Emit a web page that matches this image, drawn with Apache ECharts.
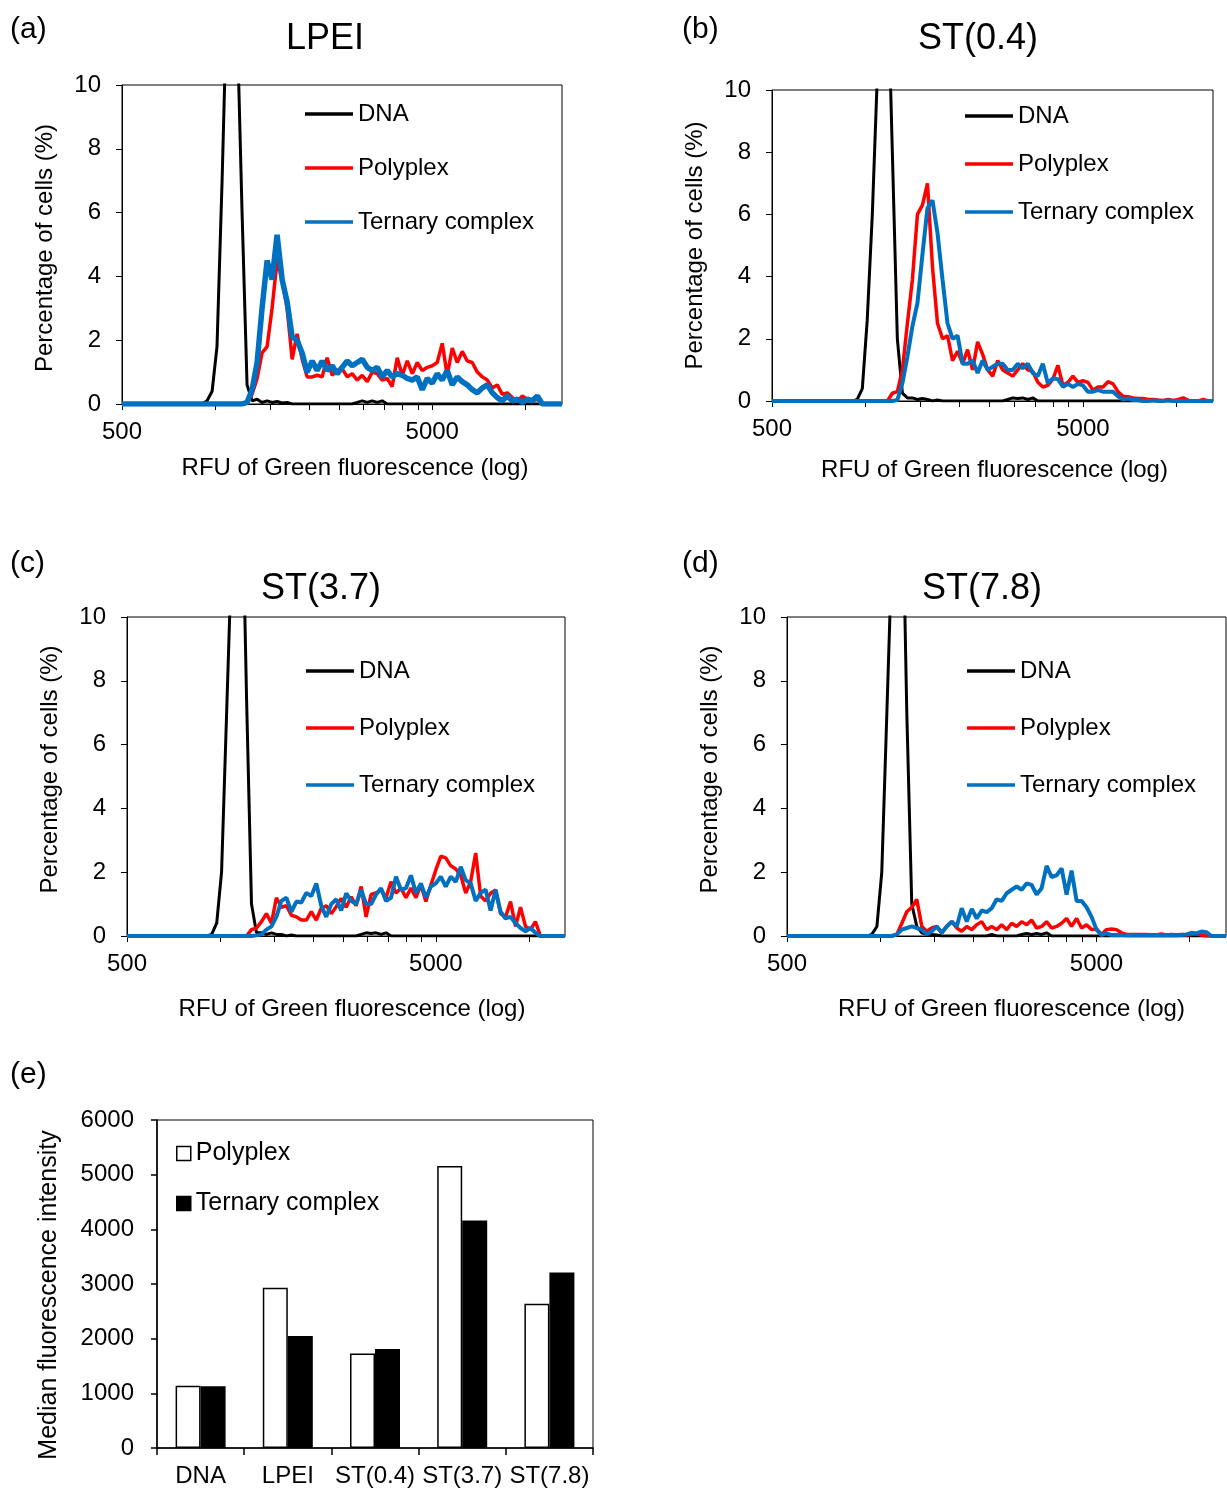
<!DOCTYPE html>
<html>
<head>
<meta charset="utf-8">
<title>Green fluorescence histograms</title>
<script src="https://cdn.jsdelivr.net/npm/echarts@6/dist/echarts.min.js"></script>
<style>
html, body { margin: 0; padding: 0; background: #fff; }
#main { width: 1227px; height: 1492px; }
</style>
</head>
<body>
<div id="main"></div>
<script>
// histogram bin centres (RFU, log spaced)
var rfu = [
  500, 781, 810, 841, 873, 906, 940, 976, 1012, 1051,
  1091, 1132, 1175, 1219, 1265, 1313, 1363, 1414, 1468, 1523,
  1581, 1641, 1703, 1768, 1834, 1904, 1976, 2051, 2128, 2209,
  2292, 2379, 2469, 2563, 2660, 2760, 2865, 2973, 3086, 3202,
  3324, 3449, 3580, 3715, 3856, 4002, 4153, 4311, 4474, 4643,
  4819, 5000, 5189, 5385, 5589, 5801, 6020, 6248, 6484, 6730,
  6985, 7249, 7523, 7808, 8103, 8410, 8728, 9058, 9401, 9757,
  10126, 10509, 10907, 11319, 11748, 12192, 12653, 13100
];

// (a) LPEI
var dnaLpei = [
  0, 0, 0, 0, 0, 0, 0.1, 0.4, 1.8, 7,
  13, 17, 12, 6, 0.6, 0.1, 0.15, 0.05, 0.1, 0.05,
  0.08, 0.03, 0.05, 0, 0, 0, 0, 0, 0, 0,
  0, 0, 0, 0, 0, 0, 0.05, 0.1, 0.05, 0.1,
  0.05, 0.1, 0, 0, 0, 0, 0, 0, 0, 0,
  0, 0, 0, 0, 0, 0, 0, 0, 0, 0,
  0, 0, 0, 0, 0, 0, 0, 0, 0, 0,
  0, 0, 0, 0, 0, 0, 0, 0
];
var polyLpei = [
  0, 0, 0, 0, 0, 0, 0, 0, 0, 0,
  0, 0, 0, 0, 0.05, 0.3, 0.8, 1.6, 1.8, 3.0,
  4.5, 3.9, 3.0, 1.4, 2.2, 1.4, 0.85, 0.85, 0.9, 0.85,
  1.45, 0.9, 1.05, 1.1, 0.85, 0.95, 0.75, 0.9, 0.7, 1.0,
  0.95, 0.75, 0.8, 0.55, 1.45, 0.9, 1.35, 0.95, 1.3, 1.05,
  1.15, 1.2, 1.3, 1.9, 0.9, 1.75, 1.3, 1.65, 1.35, 1.3,
  1.0, 0.85, 0.75, 0.5, 0.6, 0.3, 0.35, 0.2, 0.08, 0.25,
  0.15, 0.1, 0.15, 0, 0, 0, 0, 0
];
var ternLpei = [
  0, 0, 0, 0, 0, 0, 0, 0, 0, 0,
  0, 0, 0, 0, 0.05, 0.45, 1.3, 3.0, 4.5, 3.9,
  5.3, 3.9, 3.2, 2.1, 2.0, 1.6, 1.0, 1.35, 1.05, 1.35,
  1.05, 1.2, 0.95, 1.15, 1.35, 1.2, 1.3, 1.4, 1.15, 1.05,
  1.15, 0.85, 1.05, 0.85, 0.95, 0.9, 0.8, 0.75, 0.85, 0.45,
  0.8, 0.65, 0.95, 0.75, 1.05, 0.6, 0.85, 0.7, 0.6, 0.45,
  0.35, 0.5, 0.6, 0.35, 0.2, 0.1, 0.25, 0.1, 0.15, 0.05,
  0.15, 0.1, 0.25, 0, 0, 0, 0, 0
];

// (b) ST(0.4)
var dnaSt04 = [
  0, 0, 0, 0, 0, 0, 0.05, 0.4, 2.6, 6,
  10.5, 16, 14, 8, 2, 0.25, 0.1, 0.1, 0.05, 0.08,
  0.05, 0, 0.03, 0, 0, 0, 0, 0, 0, 0,
  0, 0, 0, 0, 0, 0, 0.05, 0.1, 0.08, 0.1,
  0.05, 0.1, 0, 0, 0, 0, 0, 0, 0, 0,
  0, 0, 0, 0, 0, 0, 0, 0, 0, 0,
  0, 0, 0, 0, 0, 0, 0, 0, 0, 0,
  0, 0, 0, 0, 0, 0, 0, 0
];
var polySt04 = [
  0, 0, 0, 0, 0, 0, 0, 0, 0, 0,
  0, 0, 0, 0.25, 0.3, 1.0, 2.5, 3.9, 6.0, 6.3,
  7.0, 4.3, 2.5, 2.0, 2.1, 1.3, 1.6, 1.2, 1.65, 1.0,
  1.9, 1.5, 1.0, 0.8, 1.3, 1.0, 0.9, 0.8, 1.0, 1.2,
  1.0, 0.95, 0.6, 0.45, 0.5, 0.7, 1.15, 0.5, 0.6, 0.8,
  0.6, 0.65, 0.6, 0.35, 0.45, 0.45, 0.62, 0.55, 0.3, 0.15,
  0.14, 0.1, 0.08, 0.08, 0.05, 0.05, 0.03, 0.02, 0.05, 0.02,
  0.05, 0.1, 0.02, 0, 0, 0.05, 0, 0
];
var ternSt04 = [
  0, 0, 0, 0, 0, 0, 0, 0, 0, 0,
  0, 0, 0, 0, 0.03, 0.57, 1.43, 2.4, 3.15, 4.7,
  6.2, 6.45, 5.4, 3.9, 2.5, 2.0, 2.1, 1.2, 1.2, 1.3,
  0.9, 1.3, 1.0, 1.1, 1.2, 1.2, 1.0, 1.0, 1.2, 1.05,
  1.2, 0.9, 0.8, 1.2, 0.57, 0.73, 0.7, 0.46, 0.55, 0.45,
  0.55, 0.5, 0.3, 0.3, 0.35, 0.3, 0.3, 0.3, 0.15, 0.05,
  0.08, 0.03, 0.03, 0, 0, 0.02, 0, 0, 0.02, 0,
  0, 0, 0, 0, 0, 0, 0, 0
];

// (c) ST(3.7)
var dnaSt37 = [
  0, 0, 0, 0, 0, 0, 0.05, 0.4, 2.0, 7,
  12, 16, 15, 7.5, 1.0, 0.1, 0.1, 0.05, 0.1, 0.05,
  0.05, 0, 0.03, 0, 0, 0, 0, 0, 0, 0,
  0, 0, 0, 0, 0, 0, 0.05, 0.1, 0.08, 0.1,
  0.05, 0.1, 0, 0, 0, 0, 0, 0, 0, 0,
  0, 0, 0, 0, 0, 0, 0, 0, 0, 0,
  0, 0, 0, 0, 0, 0, 0, 0, 0, 0,
  0, 0, 0, 0, 0, 0, 0, 0
];
var polySt37 = [
  0, 0, 0, 0, 0, 0, 0, 0, 0, 0,
  0, 0, 0, 0, 0.2, 0.25, 0.45, 0.7, 0.4, 1.2,
  0.9, 0.95, 0.65, 0.6, 0.5, 0.5, 0.76, 0.5, 0.87, 0.95,
  0.7, 0.92, 1.18, 0.9, 1.23, 0.95, 1.55, 0.6, 1.3, 1.35,
  1.44, 1.2, 1.7, 1.35, 1.5, 1.2, 1.5, 1.2, 1.6, 1.08,
  1.6, 2.07, 2.5, 2.45, 2.2, 2.1, 1.9, 1.35, 1.7, 2.6,
  1.25, 1.1, 1.34, 1.44, 0.7, 0.6, 1.08, 0.3, 0.9, 0.3,
  0.2, 0.45, 0, 0, 0, 0, 0, 0
];
var ternSt37 = [
  0, 0, 0, 0, 0, 0, 0, 0, 0, 0,
  0, 0, 0, 0, 0, 0.02, 0.05, 0.2, 0.3, 0.6,
  1.1, 1.2, 0.76, 1.08, 1.05, 1.35, 1.25, 1.65, 0.95, 0.6,
  1.0, 1.15, 0.8, 1.34, 1.1, 1.0, 1.45, 1.0, 1.0, 1.3,
  1.5, 1.1, 1.2, 1.86, 1.45, 1.5, 1.9, 1.35, 1.65, 1.2,
  1.55, 1.65, 1.86, 1.55, 1.86, 1.7, 2.17, 1.75, 1.65, 1.1,
  1.35, 1.45, 0.8, 1.45, 0.76, 0.55, 0.6, 0.4, 0.25, 0.15,
  0.25, 0.1, 0, 0, 0, 0, 0, 0
];

// (d) ST(7.8)
var dnaSt78 = [
  0, 0, 0, 0, 0, 0, 0.05, 0.3, 2.0, 7,
  12, 16, 15, 7, 1.0, 0.3, 0.1, 0.05, 0.05, 0.03,
  0, 0, 0, 0, 0, 0, 0, 0, 0, 0,
  0.05, 0, 0, 0, 0, 0, 0.05, 0.08, 0.05, 0.08,
  0.05, 0.1, 0, 0, 0, 0, 0, 0, 0, 0,
  0, 0, 0, 0, 0, 0, 0, 0, 0, 0,
  0, 0, 0, 0, 0, 0, 0, 0, 0, 0,
  0, 0, 0, 0, 0, 0, 0, 0
];
var polySt78 = [
  0, 0, 0, 0, 0, 0, 0, 0, 0, 0,
  0, 0.05, 0.4, 0.76, 0.9, 1.15, 0.3, 0.15, 0.25, 0.3,
  0.1, 0.3, 0.45, 0.25, 0.15, 0.3, 0.2, 0.35, 0.45, 0.2,
  0.3, 0.2, 0.35, 0.2, 0.4, 0.3, 0.45, 0.35, 0.5, 0.25,
  0.3, 0.45, 0.25, 0.3, 0.4, 0.55, 0.3, 0.55, 0.25, 0.35,
  0.2, 0.22, 0.05, 0.2, 0.22, 0.2, 0.1, 0.05, 0.05, 0.05,
  0.05, 0.05, 0.03, 0.03, 0.06, 0.03, 0.05, 0.03, 0.05, 0.03,
  0.05, 0.07, 0.03, 0, 0, 0, 0, 0
];
var ternSt78 = [
  0, 0, 0, 0, 0, 0, 0, 0, 0, 0,
  0, 0.05, 0.2, 0.25, 0.3, 0.25, 0.2, 0.05, 0.15, 0.3,
  0.1, 0.3, 0.45, 0.3, 0.87, 0.45, 0.85, 0.55, 0.8, 0.75,
  0.87, 1.15, 1.1, 1.34, 1.45, 1.55, 1.45, 1.65, 1.6, 1.3,
  1.5, 2.2, 1.85, 1.9, 2.12, 1.3, 2.05, 1.1, 1.1, 0.9,
  0.6, 0.2, 0.03, 0.08, 0.03, 0.03, 0.03, 0.02, 0.03, 0.02,
  0.02, 0.02, 0.03, 0.02, 0.03, 0.02, 0.03, 0.02, 0.03, 0.05,
  0.1, 0.08, 0.14, 0.12, 0, 0, 0, 0
];

var xLabelValues = [500, 5000];
var xTickValues = [500, 1000, 1500, 2000, 2500, 3000, 3500, 4000, 4500, 5000, 10000];

// (e) median fluorescence intensity
var barCategories = ['DNA', 'LPEI', 'ST(0.4)', 'ST(3.7)', 'ST(7.8)'];
var polyMedian = [1140, 2930, 1730, 5160, 2640];
var ternMedian = [1130, 2050, 1810, 4160, 3210];

var FONT = '"Liberation Sans", Arial, sans-serif';
var BLACK = '#000000', RED = '#FF0000', BLUE = '#0070C0';

var panels = [
  { letter: '(a)', title: 'LPEI', dna: dnaLpei, poly: polyLpei, tern: ternLpei,
    grid: { left: 122, top: 85, width: 440, height: 319 },
    titleX: 325, titleY: 21, letterX: 10, letterY: 15,
    legendLeft: 305, legendTop: 102, legendGap: 30,
    xNameGap: 52, xNameShift: 26, yNamePad: [0, 7, 0, 0], ternWidth: 5 },
  { letter: '(b)', title: 'ST(0.4)', dna: dnaSt04, poly: polySt04, tern: ternSt04,
    grid: { left: 772, top: 90, width: 441, height: 311 },
    titleX: 978, titleY: 21, letterX: 682, letterY: 15,
    legendLeft: 965, legendTop: 104, legendGap: 24,
    xNameGap: 57, xNameShift: 4, yNamePad: [0, 0, 0, 0], ternWidth: 3.5 },
  { letter: '(c)', title: 'ST(3.7)', dna: dnaSt37, poly: polySt37, tern: ternSt37,
    grid: { left: 127, top: 617, width: 438, height: 319 },
    titleX: 321, titleY: 571, letterX: 10, letterY: 549,
    legendLeft: 306, legendTop: 659, legendGap: 33,
    xNameGap: 61, xNameShift: 12, yNamePad: [0, 0, 0, 14], ternWidth: 3.5 },
  { letter: '(d)', title: 'ST(7.8)', dna: dnaSt78, poly: polySt78, tern: ternSt78,
    grid: { left: 787, top: 617, width: 439, height: 319 },
    titleX: 982, titleY: 571, letterX: 682, letterY: 549,
    legendLeft: 967, legendTop: 659, legendGap: 33,
    xNameGap: 61, xNameShift: 10, yNamePad: [0, 0, 0, 14], ternWidth: 3.5 }
];

function pairs(values) {
  return rfu.map(function (x, i) { return [x, values[i]]; });
}

var chart = echarts.init(document.getElementById('main'), null, { renderer: 'canvas' });

var titles = [], grids = [], xAxes = [], yAxes = [], legends = [], series = [];

panels.forEach(function (p, i) {
  titles.push({
    text: p.title, left: p.titleX, top: p.titleY, textAlign: 'center', padding: 0,
    textStyle: { fontSize: 36, fontWeight: 'normal', color: BLACK, fontFamily: FONT }
  });
  titles.push({
    text: p.letter, left: p.letterX, top: p.letterY, padding: 0,
    textStyle: { fontSize: 30, fontWeight: 'normal', color: BLACK, fontFamily: FONT }
  });
  grids.push({
    left: p.grid.left, top: p.grid.top, width: p.grid.width, height: p.grid.height,
    show: true, borderColor: BLACK, borderWidth: 1, containLabel: false, outerBoundsMode: 'none'
  });
  xAxes.push({
    type: 'log', logBase: 10, gridIndex: i, min: 500, max: 13100,
    name: 'RFU of Green fluorescence (log)', nameLocation: 'middle', nameGap: p.xNameGap,
    nameTextStyle: { fontSize: 24, color: BLACK, fontFamily: FONT, padding: [0, 0, 0, p.xNameShift] },
    axisLine: { show: true, onZero: false, lineStyle: { color: BLACK, width: 1 } },
    axisTick: { show: true, inside: false, length: 6, customValues: xTickValues, lineStyle: { color: BLACK } },
    axisLabel: {
      customValues: xLabelValues, margin: 16, fontSize: 24, color: BLACK, fontFamily: FONT,
      formatter: function (v) { return String(Math.round(v)); }
    },
    minorTick: { show: false },
    splitLine: { show: false }
  });
  yAxes.push({
    type: 'value', gridIndex: i, min: 0, max: 10, interval: 2,
    name: 'Percentage of cells (%)', nameLocation: 'middle', nameGap: 65,
    nameTextStyle: { fontSize: 24, color: BLACK, fontFamily: FONT, padding: p.yNamePad },
    axisLine: { show: true, lineStyle: { color: BLACK, width: 1 } },
    axisTick: { show: true, inside: false, length: 6, lineStyle: { color: BLACK } },
    axisLabel: { margin: 21, fontSize: 24, color: BLACK, fontFamily: FONT },
    splitLine: { show: false }
  });
  legends.push({
    orient: 'vertical', left: p.legendLeft, top: p.legendTop, itemGap: p.legendGap,
    itemWidth: 48, itemHeight: 3.5, padding: 0, selectedMode: false,
    textStyle: { fontSize: 24, color: BLACK, fontFamily: FONT },
    data: [
      { name: 'DNA', icon: 'rect', itemStyle: { color: BLACK, borderWidth: 0 } },
      { name: 'Polyplex', icon: 'rect', itemStyle: { color: RED, borderWidth: 0 } },
      { name: 'Ternary complex', icon: 'rect', itemStyle: { color: BLUE, borderWidth: 0 } }
    ]
  });
  series.push({
    name: 'DNA', type: 'line', xAxisIndex: i, yAxisIndex: i, data: pairs(p.dna),
    symbol: 'none', showSymbol: false, clip: true, silent: true,
    lineStyle: { color: BLACK, width: 3 }, itemStyle: { color: BLACK }
  });
  series.push({
    name: 'Polyplex', type: 'line', xAxisIndex: i, yAxisIndex: i, data: pairs(p.poly),
    symbol: 'none', showSymbol: false, clip: true, silent: true,
    lineStyle: { color: RED, width: 3.5 }, itemStyle: { color: RED }
  });
  series.push({
    name: 'Ternary complex', type: 'line', xAxisIndex: i, yAxisIndex: i, data: pairs(p.tern),
    symbol: 'none', showSymbol: false, clip: true, silent: true,
    lineStyle: { color: BLUE, width: p.ternWidth + 0.5 }, itemStyle: { color: BLUE }
  });
});

// (e) bar panel
titles.push({
  text: '(e)', left: 10, top: 1060, padding: 0,
  textStyle: { fontSize: 30, fontWeight: 'normal', color: BLACK, fontFamily: FONT }
});
grids.push({
  left: 157, top: 1120, width: 436, height: 328,
  show: true, borderColor: BLACK, borderWidth: 1, containLabel: false, outerBoundsMode: 'none'
});
xAxes.push({
  type: 'category', gridIndex: 4, data: barCategories,
  axisLine: { show: true, lineStyle: { color: BLACK, width: 1.5 } },
  axisTick: { show: true, inside: false, length: 7, alignWithLabel: false, lineStyle: { color: BLACK, width: 1.5 } },
  axisLabel: { interval: 0, margin: 16, fontSize: 24, color: BLACK, fontFamily: FONT },
  splitLine: { show: false }
});
yAxes.push({
  type: 'value', gridIndex: 4, min: 0, max: 6000, interval: 1000,
  name: 'Median fluorescence intensity', nameLocation: 'middle', nameGap: 95,
  nameTextStyle: { fontSize: 25, color: BLACK, fontFamily: FONT, padding: [0, 22, 0, 0] },
  axisLine: { show: true, lineStyle: { color: BLACK, width: 1.5 } },
  axisTick: { show: true, inside: false, length: 6, lineStyle: { color: BLACK, width: 1.5 } },
  axisLabel: {
    margin: 23, fontSize: 24, color: BLACK, fontFamily: FONT,
    formatter: function (v) { return String(v); }
  },
  splitLine: { show: false }
});
legends.push({
  orient: 'vertical', left: 176, top: 1141, itemGap: 25,
  itemWidth: 14, itemHeight: 14, padding: 0, selectedMode: false,
  textStyle: { fontSize: 25, color: BLACK, fontFamily: FONT },
  data: [
    { name: 'Polyplex', icon: 'rect', itemStyle: { color: '#FFFFFF', borderColor: BLACK, borderWidth: 1.5 } },
    { name: 'Ternary complex', icon: 'rect', itemStyle: { color: BLACK, borderColor: BLACK, borderWidth: 1.5 } }
  ]
});
series.push({
  name: 'Polyplex', type: 'bar', xAxisIndex: 4, yAxisIndex: 4, data: polyMedian,
  barWidth: 25, barGap: '0%', silent: true,
  itemStyle: { color: '#FFFFFF', borderColor: BLACK, borderWidth: 1.5 }
});
series.push({
  name: 'Ternary complex', type: 'bar', xAxisIndex: 4, yAxisIndex: 4, data: ternMedian,
  barWidth: 25, barGap: '0%', silent: true,
  itemStyle: { color: BLACK, borderColor: BLACK, borderWidth: 1.5 }
});

var option = {
  animation: false,
  backgroundColor: '#FFFFFF',
  textStyle: { fontFamily: FONT, color: BLACK },
  title: titles,
  grid: grids,
  xAxis: xAxes,
  yAxis: yAxes,
  legend: legends,
  series: series
};

if (option && typeof option === 'object') {
  chart.setOption(option);
}
</script>
</body>
</html>
